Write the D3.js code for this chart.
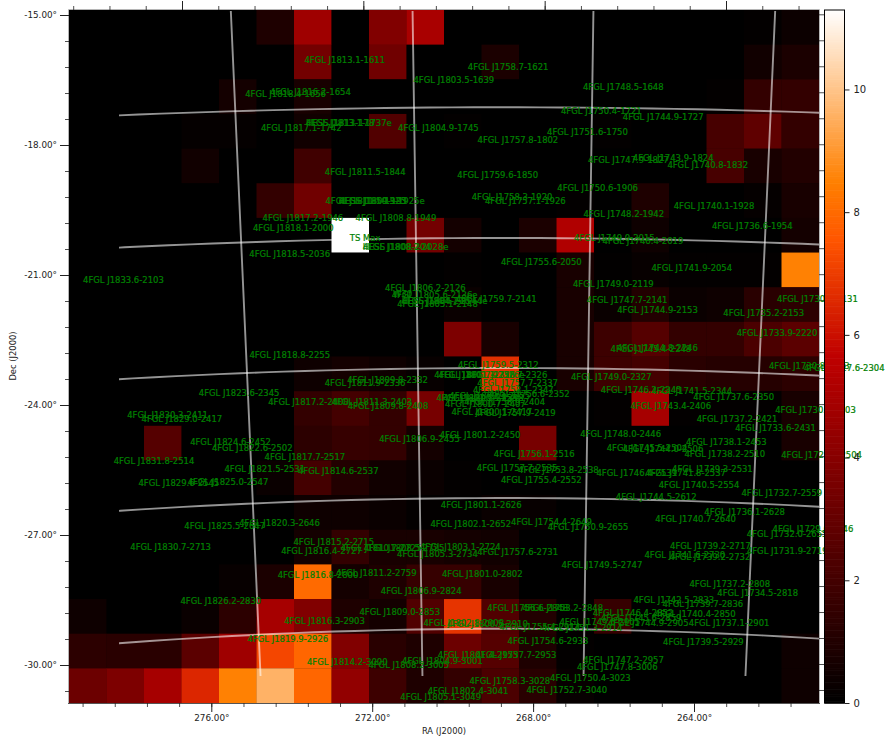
<!DOCTYPE html>
<html><head><meta charset="utf-8">
<script src="https://cdn.jsdelivr.net/npm/d3@7/dist/d3.min.js"></script>
<style>html,body{margin:0;padding:0;background:#fff}svg{display:block}text{font-family:"DejaVu Sans",sans-serif}</style>
</head><body><svg id="c" width="896" height="746"></svg>
<script>
// TS map values, top row first (20 x 20 bins)
const tsRows = [
[0,0,0,0,0,.9,4.7,0,3.8,5,0,0,0,0,0,0,0,0,.1,.35],
[0,0,0,0,0,0,3.4,0,3.3,0,0,.8,0,0,0,0,0,0,.5,.8],
[0,0,0,0,.6,0,.7,0,0,0,0,0,0,0,0,0,0,.1,1.5,1.5],
[0,0,0,.15,.15,0,.5,0,2.4,0,.1,0,0,0,.1,0,0,2.1,2.8,1.5],
[0,0,0,.5,0,0,1.9,0,0,0,0,0,0,0,0,0,0,2.1,.7,1],
[0,0,0,0,0,1.5,3.3,0,0,0,0,0,0,.1,0,.9,0,0,.15,.7],
[0,0,0,0,0,0,0,11.3,0,3.4,.6,0,.8,5.2,0,.4,0,0,0,.6],
[0,0,0,0,0,0,0,0,0,0,.1,0,0,.7,.05,.2,.1,.1,.1,8.5],
[0,0,0,0,0,0,0,0,0,0,.3,0,0,.7,.3,1,.3,.4,1.2,1.3],
[0,0,0,0,0,0,0,0,0,0,3.7,.7,0,.7,1.8,2.5,1.5,1.5,2.2,2.7],
[0,0,0,0,0,0,.4,.6,.4,.2,0,6.7,0,.7,1.8,2,1.2,1.1,1.1,1.3],
[0,0,0,0,0,0,1.5,2,1.5,3.5,0,0,0,0,.1,4.9,.1,.1,.1,.7],
[0,0,2.5,0,0,0,1.3,1.6,1.5,.6,0,0,3.5,0,0,0,0,0,0,.7],
[0,0,0,0,0,.3,2,1,.5,.3,.1,0,0,0,0,0,0,0,0,0],
[0,0,0,0,0,0,.4,.4,.3,.1,.1,.3,.2,0,0,0,0,0,0,0],
[0,0,0,0,0,0,.6,1.5,.7,.7,.6,.5,0,0,0,0,0,0,0,0],
[0,0,0,0,.2,.8,8,.6,.9,1.6,1.6,.7,0,0,0,0,0,0,0,0],
[.4,0,0,.3,1.3,4.9,3.8,.9,.6,2.4,6.8,2.4,1,.1,1.6,0,0,0,0,0],
[1.3,1.2,1.2,2.7,4.7,7.2,7.9,3.8,1.2,.9,3.2,2.5,.9,.1,0,0,0,0,0,.4],
[3.2,3.7,4.9,6.5,8.5,9.6,7.9,4.3,1.8,.9,1.5,2.2,1.2,.2,0,0,0,0,0,.4]
];
const tsMax = 11.295;
const colorbarTicks = [0,2,4,6,8,10];
const raMajor = [276,272,268,264];
const raMinorBottom = d3.range(0,23).map(i=>279.2-i*0.8);
const raMinorTop = d3.range(0,21).map(i=>278.4-i*0.8);
const decMajor = [-15,-18,-21,-24,-27,-30];
const decMinor = d3.range(0,27).map(i=>-15-i*0.6);
// Overlaid coordinate grid
const gridRA = [274.85,270.85,266.85,262.85];
const gridDec = [-17.4,-20.4,-23.4,-26.4,-29.4];
// Catalogue labels (sky position is carried by the source name)
const sourceNames = `4FGL J1813.1-1611|4FGL J1803.5-1639|4FGL J1758.7-1621|4FGL J1748.5-1648|4FGL J1816.2-1654|4FGL J1818.4-1656|4FGL J1813.1-1737e|4FGL J1817.1-1742|4FGL J1804.9-1745|4FGL J1750.4-1721|4FGL J1744.9-1727|4FGL J1751.6-1750|4FGL J1757.8-1802|4FGL J1747.9-1827|4FGL J1743.9-1824|4FGL J1740.8-1832|4FGL J1811.5-1844|4FGL J1759.6-1850|4FGL J1750.6-1906|4FGL J1758.3-1920|4FGL J1757.1-1926|4FGL J1748.2-1942|4FGL J1740.1-1928|4FGL J1736.6-1954|4FGL J1817.2-1946|4FGL J1808.8-1949|4FGL J1818.1-2000|4FGL J1811.5-1925|4FGL J1810.3-1925e|4FGL J1808.2-2028e|4FGL J1749.0-2015|4FGL J1746.4-2019|4FGL J1818.5-2036|4FGL J1755.6-2050|4FGL J1741.9-2054|4FGL J1833.6-2103|4FGL J1749.0-2119|4FGL J1806.2-2126|4FGL J1805.6-2136e|4FGL J1804.7-2144e|4FGL J1759.7-2141|4FGL J1747.7-2141|4FGL J1805.1-2148|4FGL J1744.9-2153|4FGL J1735.2-2153|4FGL J1730.4-2131|4FGL J1733.9-2220|4FGL J1818.8-2255|4FGL J1745.4-2248|4FGL J1744.8-2246|4FGL J1759.5-2312|4FGL J1730.8-2303|4FGL J1727.6-2304|4FGL J1749.0-2327|4FGL J1809.8-2332|4FGL J1811.9-2336|4FGL J1757.7-2337|4FGL J1823.6-2345|4FGL J1741.5-2344|4FGL J1746.2-2345|4FGL J1737.6-2350|4FGL J1758.1-2347|4FGL J1817.2-2400|4FGL J1811.3-2403|4FGL J1809.8-2408|4FGL J1743.4-2406|4FGL J1801.7-2326|4FGL J1758.7-2326|4FGL J1801.3-2326e|4FGL J1756.6-2352|4FGL J1800.9-2358|4FGL J1800.3-2355|4FGL J1801.5-2358|4FGL J1758.9-2404|4FGL J1800.7-2407|4FGL J1800.1-2417|4FGL J1757.9-2419|4FGL J1830.3-2411|4FGL J1829.0-2417|4FGL J1737.2-2421|4FGL J1733.6-2431|4FGL J1730.0-2403|4FGL J1748.0-2446|4FGL J1801.2-2450|4FGL J1806.9-2455|4FGL J1824.6-2452|4FGL J1822.6-2502|4FGL J1817.7-2517|4FGL J1831.8-2514|4FGL J1756.1-2516|4FGL J1745.5-2504|4FGL J1744.0-2506|4FGL J1738.1-2453|4FGL J1738.2-2510|4FGL J1739.3-2531|4FGL J1729.2-2504|4FGL J1821.5-2531|4FGL J1814.6-2537|4FGL J1757.7-2535|4FGL J1753.8-2538|4FGL J1746.4-2539|4FGL J1741.8-2537|4FGL J1755.4-2552|4FGL J1740.5-2554|4FGL J1732.7-2559|4FGL J1829.6-2545|4FGL J1825.0-2547|4FGL J1744.5-2612|4FGL J1801.1-2626|4FGL J1736.1-2628|4FGL J1754.4-2649|4FGL J1750.9-2655|4FGL J1740.7-2640|4FGL J1825.5-2647|4FGL J1820.3-2646|4FGL J1802.1-2652|4FGL J1729.6-2646|4FGL J1732.0-2655|4FGL J1830.7-2713|4FGL J1815.2-2715|4FGL J1816.4-2727|4FGL J1810.7-2725|4FGL J1808.5-2725|4FGL J1803.1-2724|4FGL J1805.3-2734|4FGL J1757.6-2731|4FGL J1739.2-2717|4FGL J1741.6-2730|4FGL J1739.2-2732|4FGL J1731.9-2719|4FGL J1749.5-2747|4FGL J1811.2-2759|4FGL J1801.0-2802|4FGL J1816.8-2800|4FGL J1737.2-2808|4FGL J1734.5-2818|4FGL J1806.9-2824|4FGL J1826.2-2830|4FGL J1742.5-2833|4FGL J1739.7-2836|4FGL J1756.6-2848|4FGL J1753.2-2848|4FGL J1809.0-2853|4FGL J1746.4-2852|4FGL J1740.4-2850|4FGL J1745.6-2859|4FGL J1816.3-2903|4FGL J1802.8-2908|4FGL J1800.5-2910|4FGL J1749.6-2905|4FGL J1744.9-2905|4FGL J1737.1-2901|4FGL J1755.4-2914|4FGL J1751.3-2914|4FGL J1754.6-2933|4FGL J1739.5-2929|4FGL J1819.9-2926|4FGL J1814.2-3000|4FGL J1808.2-3005|4FGL J1804.9-3001|4FGL J1801.4-2953|4FGL J1757.7-2953|4FGL J1747.2-2957|4FGL J1747.8-3006|4FGL J1758.3-3028|4FGL J1750.4-3023|4FGL J1802.4-3041|4FGL J1805.1-3049|4FGL J1752.7-3040`.split("|");
const extraNames = ["TS Max","W30","HESS J1813-178","HESS J1809-193","HESS J1808-204","HESS J1804-216"];
const extraRA = [272.34,271.37,273.27,272.575,272.05,271.17];
const extraDec = [-20.27,-21.57,-17.62,-19.42,-20.47,-21.73];

const svg = d3.select("#c");
const plot = {l:69,r:819,t:10,b:703};
const gnomonic = d3.geoGnomonic().rotate([-270.2,23.14]).scale(180/Math.PI).translate([0,0]);
const xSky = d3.scaleLinear().domain([8,-8]).range([plot.l,plot.r]);
const ySky = d3.scaleLinear().domain([-8,8]).range([356.5-8*43.3,356.5+8*43.3]);
const project = (ra,dec)=>{const p=gnomonic([ra-360,dec]);return [xSky(p[0]),ySky(p[1])];};
// grid overlay has its own tangent point
const gridProj = d3.geoGnomonic().rotate([-268.85,23.4]).scale(180/Math.PI).translate([0,0]);
const xGrid = d3.scaleLinear().domain([-1,1]).range([503+46.36,503-46.36]);
const yGrid = d3.scaleLinear().domain([-1,1]).range([368-43.3,368+43.3]);
const projectGrid = (ra,dec)=>{const p=gridProj([ra-360,dec]);return [xGrid(p[0]),yGrid(p[1])];};

const colX = d3.scaleBand().domain(d3.range(20)).range([plot.l,plot.r]);
const rowY = d3.scaleBand().domain(d3.range(20)).range([plot.t,plot.b]);
const gistHeat = t=>{const c=v=>Math.round(255*Math.max(0,Math.min(1,v)));return `rgb(${c(1.5*t)},${c(2*t-1)},${c(4*t-3)})`;};
const color = d3.scaleSequential(gistHeat).domain([0,tsMax]);

svg.append("rect").attr("x",plot.l).attr("y",plot.t).attr("width",plot.r-plot.l).attr("height",plot.b-plot.t).attr("fill","#000");
svg.append("g").selectAll("g").data(tsRows).join("g").each(function(row,r){
  d3.select(this).selectAll("rect").data(row).join("rect")
    .attr("x",(d,c)=>colX(c)).attr("y",rowY(r)).attr("width",colX.bandwidth()+.3).attr("height",rowY.bandwidth()+.3)
    .attr("fill",d=>color(d));
});

// grid
const gridClip = {l:119,r:plot.r,t:plot.t+1,b:676};
svg.append("clipPath").attr("id","pc").append("rect").attr("x",gridClip.l).attr("y",gridClip.t).attr("width",gridClip.r-gridClip.l).attr("height",gridClip.b-gridClip.t);
const gridG = svg.append("g").attr("clip-path","url(#pc)").attr("fill","none").attr("stroke","#fff").attr("stroke-opacity",.58).attr("stroke-width",1.9);
const line = d3.line();
gridRA.forEach(ra=>gridG.append("path").attr("d",line(d3.range(-13,-33,-.5).map(d=>projectGrid(ra,d)))));
gridDec.forEach(dec=>gridG.append("path").attr("d",line(d3.range(280,258,-.5).map(r=>projectGrid(r,dec)))));

// spines
const spine = svg.append("g").attr("fill","none").attr("stroke","#b5b5b5").attr("stroke-width",1);
spine.append("path").attr("d",d3.line()([[plot.l-.5,plot.b],[plot.l-.5,plot.t-.5],[plot.r+.5,plot.t-.5],[plot.r+.5,plot.b]]));
svg.append("path").attr("d",d3.line()([[plot.l-1,plot.b+.5],[plot.r+1,plot.b+.5]])).attr("stroke","#555").attr("stroke-width",1);

// axes
const tickColor = "#222";
function axis(gen, tx, major, minor, fmt){
  const g = svg.append("g").attr("transform",tx);
  g.call(gen.tickValues(minor).tickSize(4).tickFormat(""));
  g.selectAll(".domain").remove(); g.selectAll("line").attr("stroke",tickColor).attr("stroke-width",.8);
  const h = svg.append("g").attr("transform",tx);
  h.call(gen.tickValues(major).tickSize(9).tickPadding(3).tickFormat(fmt||""));
  h.selectAll(".domain").remove(); h.selectAll("line").attr("stroke",tickColor).attr("stroke-width",1);
  h.selectAll("text").attr("font-size",8.8).attr("font-family","DejaVu Sans").attr("fill",tickColor);
}
const raB = d3.scaleLinear().domain([276,264]).range([211.3,694]);
const raT = d3.scaleLinear().domain([276,264]).range([182,726]);
const decL = d3.scaleLinear().domain([-15,-30]).range([15,665]);
const decR = d3.scaleLinear().domain([-15,-30]).range([14.3,664]);
axis(d3.axisBottom(raB),`translate(0,${plot.b})`,raMajor,raMinorBottom,d=>d.toFixed(2)+"°");
axis(d3.axisTop(raT),`translate(0,${plot.t})`,raMajor,raMinorTop);
axis(d3.axisLeft(decL),`translate(${plot.l},0)`,decMajor,decMinor,d=>d.toFixed(2)+"°");
const rightAxis = svg.append("g").attr("transform",`translate(${plot.r},0)`).call(d3.axisRight(decR).tickValues(decMinor).tickSize(5).tickFormat(""));
rightAxis.selectAll(".domain").remove(); rightAxis.selectAll("line").attr("stroke",tickColor).attr("stroke-width",.8);

svg.append("text").attr("x",444).attr("y",734).attr("text-anchor","middle").attr("font-size",8.4).attr("fill",tickColor).text("RA (J2000)");
svg.append("text").attr("transform","translate(16,356) rotate(-90)").attr("text-anchor","middle").attr("font-size",8.4).attr("fill",tickColor).text("Dec (J2000)");

// labels
function parseName(n){
  const m = n.match(/J(\d{2})(\d{2}(?:\.\d)?)([+-])(\d+)/);
  const ra = (+m[1]+ +m[2]/60)*15;
  const s = m[4];
  const dec = +s.slice(0,2)+ +s.slice(2)/60;
  return [ra, m[3]==="-"?-dec:dec];
}
const labelData = sourceNames.map(n=>{const [ra,dec]=parseName(n);return {n,ra,dec};})
  .concat(extraNames.map((n,i)=>({n,ra:extraRA[i],dec:extraDec[i]})));
svg.append("g").selectAll("text").data(labelData).join("text")
  .attr("x",d=>project(d.ra,d.dec)[0]).attr("y",d=>project(d.ra,d.dec)[1]+8.5)
  .attr("font-size",8.45).attr("fill","#008000").attr("stroke","#008000").attr("stroke-width",.22).text(d=>d.n);

// colorbar (on top of labels)
const cb = {l:824.5,r:844.5};
const cbY = d3.scaleLinear().domain([0,tsMax]).range([plot.b,plot.t]);
const cbG = svg.append("g");
cbG.append("rect").attr("x",cb.l).attr("y",plot.t).attr("width",cb.r-cb.l).attr("height",plot.b-plot.t).attr("fill","#fff");
cbG.selectAll("rect.s").data(d3.range(0,tsMax,tsMax/400)).join("rect").attr("class","s")
  .attr("x",cb.l).attr("width",cb.r-cb.l).attr("y",d=>cbY(d+tsMax/400)).attr("height",(plot.b-plot.t)/400+.6).attr("fill",d=>color(d));
cbG.append("rect").attr("x",cb.l).attr("y",plot.t).attr("width",cb.r-cb.l).attr("height",plot.b-plot.t).attr("fill","none").attr("stroke","#000").attr("stroke-width",1);
const cbAxis = svg.append("g").attr("transform",`translate(${cb.r},0)`).call(d3.axisRight(cbY).tickValues(colorbarTicks).tickSize(5).tickPadding(4).tickFormat(d3.format("d")));
cbAxis.selectAll(".domain").remove();
cbAxis.selectAll("line").attr("stroke",tickColor);
cbAxis.selectAll("text").attr("font-size",10).attr("font-family","DejaVu Sans").attr("fill",tickColor);
</script></body></html>
